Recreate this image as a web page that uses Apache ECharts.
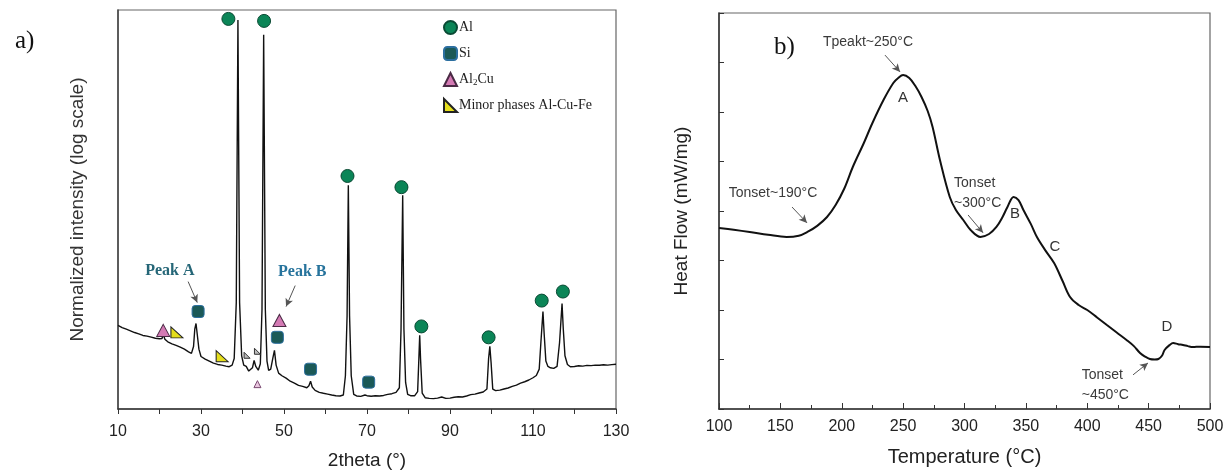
<!DOCTYPE html>
<html><head><meta charset="utf-8">
<script src="https://cdn.jsdelivr.net/npm/echarts@6/dist/echarts.min.js"></script>
<style>html,body{margin:0;padding:0;background:#fff}#c{width:1231px;height:475px}</style>
</head><body><div id="c"></div>
<script>
// ---------- a) XRD pattern: 2theta (deg) vs log10(normalized intensity) ----------
const xrdTheta = [10,11,12,13,14,15,16,17,18,19,20,20.6,20.9,21.3,22,23,24,25,26,27,27.7,28.2,28.5,28.8,29.1,29.5,30,31,32,33,34,35,36,36.8,37.5,38,38.5,38.9,39.3,39.8,40.3,40.9,41.5,41.9,42.4,42.8,43.2,43.8,44.3,44.7,45.1,45.5,45.9,46.3,46.8,47.3,47.7,48.1,48.7,49.5,50.5,51.5,52.5,53.5,54.5,55.5,56,56.4,56.8,57.5,58.5,59.5,60.5,61.5,62.5,63.5,64.3,64.8,65.2,65.5,65.8,66.2,66.8,67.5,68.5,69.5,70,71,72,73,74,75,76,77,77.8,78.2,78.6,78.9,79.3,79.8,80.5,81.5,82.2,82.5,82.7,82.9,83.3,84,85,86,87,88,89,90,91,92,93,94,95,96,97,98,98.9,99.3,99.6,99.9,100.3,101,102,103,104,105,106,107,108,109,110,110.8,111.5,111.9,112.4,112.7,113.1,113.6,114.2,115,115.8,116.4,117,117.3,117.7,118.3,119,120,121,122,123,124,125,126,127,128,129,130];
const xrdLogI = [0.628,0.612,0.600,0.588,0.575,0.565,0.553,0.548,0.540,0.532,0.528,0.530,0.560,0.525,0.505,0.490,0.478,0.465,0.450,0.430,0.418,0.470,0.600,0.643,0.560,0.450,0.395,0.375,0.360,0.345,0.335,0.330,0.322,0.318,0.330,0.380,0.800,2.925,0.800,0.400,0.330,0.320,0.285,0.270,0.310,0.365,0.320,0.292,0.340,0.750,2.813,0.750,0.360,0.290,0.300,0.380,0.441,0.330,0.270,0.250,0.232,0.209,0.195,0.178,0.170,0.160,0.175,0.209,0.165,0.140,0.125,0.118,0.112,0.105,0.100,0.098,0.105,0.250,0.700,1.683,0.700,0.250,0.110,0.098,0.095,0.105,0.100,0.096,0.100,0.098,0.102,0.110,0.115,0.125,0.160,0.600,1.608,0.600,0.200,0.110,0.100,0.100,0.130,0.380,0.554,0.380,0.120,0.085,0.080,0.078,0.082,0.090,0.080,0.082,0.088,0.092,0.090,0.098,0.108,0.112,0.120,0.128,0.150,0.380,0.471,0.350,0.150,0.138,0.142,0.150,0.158,0.170,0.180,0.195,0.205,0.218,0.235,0.252,0.300,0.500,0.733,0.560,0.360,0.320,0.310,0.305,0.320,0.500,0.793,0.600,0.400,0.335,0.318,0.320,0.325,0.322,0.328,0.326,0.330,0.329,0.333,0.330,0.334,0.336];

// phase markers [2theta, log10 I]
const alMarks    = [[36.6,2.933],[45.2,2.918],[65.3,1.752],[78.3,1.668],[83.1,0.621],[99.3,0.539],[112.1,0.815],[117.2,0.883]];
const siMarks    = [[29.3,0.733],[48.4,0.539],[56.4,0.299],[70.4,0.202]];
const al2cuMarks = [[20.9,0.591],[48.9,0.666]];
const minorMarks = [[24.2,0.576],[35.1,0.397]];
const al2cuSmall = [[43.6,0.187]];
const minorSmall = [[41.1,0.404],[43.6,0.434]];

const xrdNotes  = [{text:'Peak A', at:[22.5,1.04], color:'#256677'},{text:'Peak B', at:[54.4,1.03], color:'#26739c'}];
const xrdArrows = [[[26.9,0.958],[29.1,0.80]],[[52.7,0.928],[50.5,0.77]]];

// ---------- b) DSC curve: temperature (°C) vs heat flow (arb. units) ----------
const dscT    = [100,112,125,140,155,165,172,180,188,195,202,209,218,225,234,242,246,250,255,260,265,270,274,280,288,293,299,305,313,320,326,331,335,340,344,348,354,359,366,373,380,386,393,400,408,416,424,432,438,443,447,451,455,458,461,463,467,470,474,478,482,486,492,500];
const dscHeat = [3.657,3.62,3.576,3.52,3.475,3.50,3.576,3.70,3.879,4.121,4.45,4.889,5.374,5.778,6.242,6.586,6.687,6.747,6.687,6.525,6.303,6.02,5.697,5.030,4.283,4.020,3.818,3.616,3.475,3.535,3.677,3.88,4.081,4.283,4.22,4.020,3.74,3.475,3.20,2.949,2.58,2.263,2.10,2.000,1.85,1.697,1.545,1.394,1.27,1.131,1.06,1.010,1.000,1.010,1.08,1.192,1.29,1.333,1.31,1.293,1.27,1.253,1.26,1.253];

const dscNotes = [
  {text:'Tpeakt~250°C', at:[221.4,7.41], align:'center'},
  {text:'Tonset~190°C', at:[144,4.36], align:'center'},
  {text:'Tonset\n~300°C', at:[291.5,4.36], align:'left'},
  {text:'Tonset\n~450°C', at:[395.5,0.49], align:'left'}
];
const dscLetters = [{text:'A', at:[249.9,6.28]},{text:'B', at:[341.1,3.94]},{text:'C', at:[373.7,3.27]},{text:'D', at:[465,1.66]}];
const dscArrows = [[[235.2,7.15],[247.5,6.81]],[[159.5,4.08],[171.7,3.76]],[[302.9,3.92],[315.1,3.56]],[[437.3,0.69],[449.5,0.93]]];

// ------------------------------------------------------------
const SANS = '"Liberation Sans", Arial, sans-serif';
const SERIF = '"Liberation Serif", "Times New Roman", serif';
const chart = echarts.init(document.getElementById('c'), null, {renderer:'canvas'});

function arrowLine(list){
  return {silent:true, symbol:['none','arrow'], symbolSize:[6,8], label:{show:false},
    lineStyle:{color:'#555', width:1, type:'solid'}, emphasis:{disabled:true},
    data:list.map(a=>[{coord:a[0]},{coord:a[1]}])};
}
function notes(list, xi, yi, base){
  return {type:'scatter', xAxisIndex:xi, yAxisIndex:yi, symbolSize:0, silent:true, z:5,
    itemStyle:{opacity:1},
    data:list.map(n=>({value:n.at, label:Object.assign({}, base, {formatter:n.text, align:n.align||'center', color:n.color||base.color})})),
    label:Object.assign({show:true, position:'inside'}, base)};
}

const xrdLine = xrdTheta.map((t,i)=>[t, xrdLogI[i]]);
const dscLine = dscT.map((t,i)=>[t, dscHeat[i]]);

const frame = {show:true, borderColor:'#666', borderWidth:1.2, backgroundColor:'transparent'};
chart.setOption({
  backgroundColor:'#fff',
  animation:false,
  title:[
    {text:'a)', left:10, top:24, textStyle:{fontFamily:SERIF, fontSize:25, fontWeight:'normal', color:'#111'}},
    {text:'b)', left:769, top:30, textStyle:{fontFamily:SERIF, fontSize:25, fontWeight:'normal', color:'#111'}}
  ],
  legend:{
    orient:'vertical', left:438, top:15, itemWidth:13, itemHeight:13, itemGap:11,
    data:['Al','Si','Al2Cu','Minor phases Al-Cu-Fe'],
    formatter:n=> n==='Al2Cu' ? '{t|Al}{s|2}{t|Cu}' : n,
    textStyle:{fontFamily:SERIF, fontSize:14, color:'#222', padding:[0,0,0,-3],
      rich:{t:{fontFamily:SERIF, fontSize:14, color:'#222'}, s:{fontFamily:SERIF, fontSize:9, color:'#222', verticalAlign:'bottom', padding:[6,0,0,0]}}}
  },
  grid:[
    Object.assign({left:118, top:10, width:498, height:402}, frame),
    Object.assign({left:719, top:13, width:491, height:396}, frame)
  ],
  xAxis:[
    {gridIndex:0, type:'value', min:10, max:130, interval:20,
     name:'2theta (°)', nameLocation:'middle', nameGap:42,
     nameTextStyle:{fontFamily:SANS, fontSize:19, color:'#222'},
     axisLine:{lineStyle:{color:'#333', width:1.5}},
     axisTick:{show:true, inside:false, length:5, lineStyle:{color:'#333'}},
     minorTick:{show:true, splitNumber:2, length:5, lineStyle:{color:'#333'}},
     axisLabel:{fontFamily:SANS, fontSize:16, color:'#222', margin:15},
     splitLine:{show:false}},
    {gridIndex:1, type:'value', min:100, max:500, interval:50,
     name:'Temperature (°C)', nameLocation:'middle', nameGap:38,
     nameTextStyle:{fontFamily:SANS, fontSize:20, color:'#222'},
     axisLine:{lineStyle:{color:'#333', width:1.5}},
     axisTick:{show:true, inside:true, length:6, lineStyle:{color:'#333'}},
     minorTick:{show:true, splitNumber:2, length:4, lineStyle:{color:'#333'}},
     axisLabel:{fontFamily:SANS, fontSize:16, color:'#222', margin:10},
     splitLine:{show:false}}
  ],
  yAxis:[
    {gridIndex:0, type:'value', min:0, max:3,
     name:'Normalized intensity (log scale)', nameLocation:'middle', nameGap:31,
     nameTextStyle:{fontFamily:SANS, fontSize:19, color:'#333'},
     axisLine:{lineStyle:{color:'#444', width:1.5}},
     axisTick:{show:false}, axisLabel:{show:false}, splitLine:{show:false}},
    {gridIndex:1, type:'value', min:0, max:8, interval:1,
     name:'Heat Flow (mW/mg)', nameLocation:'middle', nameGap:28,
     nameTextStyle:{fontFamily:SANS, fontSize:19, color:'#222'},
     axisLine:{lineStyle:{color:'#333', width:1.5}},
     axisTick:{show:true, inside:true, length:5, lineStyle:{color:'#333'}},
     axisLabel:{show:false}, splitLine:{show:false}}
  ],
  series:[
    {type:'line', name:'XRD', xAxisIndex:0, yAxisIndex:0, data:xrdLine, showSymbol:false,
     lineStyle:{color:'#111', width:1.4}, silent:true, markLine:arrowLine(xrdArrows)},
    {type:'scatter', name:'Al', xAxisIndex:0, yAxisIndex:0, data:alMarks, symbol:'circle', symbolSize:13,
     itemStyle:{color:'#0b8557', borderColor:'#0a4a34', borderWidth:1, opacity:1}, z:4},
    {type:'scatter', name:'Si', xAxisIndex:0, yAxisIndex:0, data:siMarks, symbol:'roundRect', symbolSize:12,
     itemStyle:{color:'#1b5957', borderColor:'#2c6fa0', borderWidth:1, opacity:1}, z:4},
    {type:'scatter', name:'Al2Cu', xAxisIndex:0, yAxisIndex:0, data:al2cuMarks, symbol:'triangle', symbolSize:[13,12],
     itemStyle:{color:'#d47ab4', borderColor:'#4a2a45', borderWidth:1, opacity:1}, z:4},
    {type:'scatter', name:'Minor phases Al-Cu-Fe', xAxisIndex:0, yAxisIndex:0, data:minorMarks, symbol:'path://M0,0 L0,10 L10,10 Z', symbolSize:[12,11],
     itemStyle:{color:'#e5de1c', borderColor:'#222', borderWidth:1, opacity:1}, z:4},
    {type:'scatter', name:'al2cuSmall', xAxisIndex:0, yAxisIndex:0, data:al2cuSmall, symbol:'triangle', symbolSize:[7,7],
     itemStyle:{color:'#e9c6df', borderColor:'#7a4a72', borderWidth:1, opacity:1}, z:4},
    {type:'scatter', name:'minorSmall', xAxisIndex:0, yAxisIndex:0, data:minorSmall, symbol:'path://M0,0 L0,10 L10,10 Z', symbolSize:[6,6],
     itemStyle:{color:'#bbb', borderColor:'#333', borderWidth:1, opacity:1}, z:4},
    notes(xrdNotes, 0, 0, {fontFamily:SERIF, fontSize:16, fontWeight:'bold', color:'#256677', verticalAlign:'middle'}),
    {type:'line', name:'DSC', xAxisIndex:1, yAxisIndex:1, data:dscLine, showSymbol:false, smooth:0.35,
     lineStyle:{color:'#111', width:2}, silent:true, markLine:arrowLine(dscArrows)},
    notes(dscNotes, 1, 1, {fontFamily:SANS, fontSize:14, color:'#3a3a3a', verticalAlign:'middle', lineHeight:20}),
    notes(dscLetters, 1, 1, {fontFamily:SANS, fontSize:15, color:'#333', verticalAlign:'middle'})
  ]
});
</script></body></html>
